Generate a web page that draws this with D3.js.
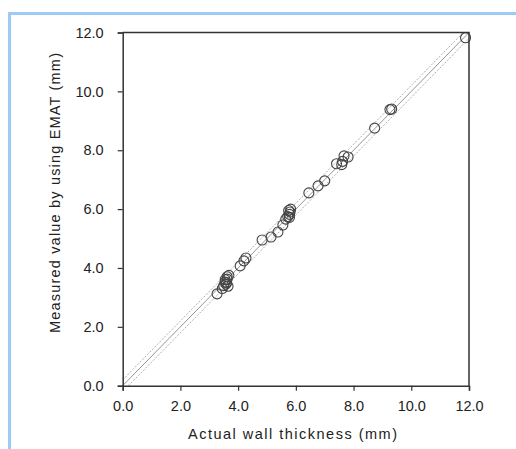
<!DOCTYPE html>
<html>
<head>
<meta charset="UTF-8">
<script src="https://d3js.org/d3.v7.min.js"></script>
<style>
    body { margin: 0; background: #fff; }
    svg { display: block; }
    text { font-family: "Liberation Sans", Arial, sans-serif; fill: #222; }
</style>
</head>
<body>
<svg width="516" height="449"></svg>
<script>
    // actual wall thickness (mm) vs EMAT reading (mm)
    const actual = [3.27, 3.45, 3.5, 3.55, 3.58, 3.6, 3.62, 3.65, 3.68, 3.55, 3.62,
        4.07, 4.2, 4.27, 4.83, 5.14, 5.38, 5.55, 5.65,
        5.72, 5.78, 5.8, 5.82, 5.78, 5.75,
        6.45, 6.77, 7.0, 7.41, 7.59, 7.62, 7.67, 7.81,
        8.73, 9.26, 9.32, 11.88];
    const measured = [3.12, 3.3, 3.4, 3.6, 3.45, 3.5, 3.7, 3.38, 3.75, 3.52, 3.62,
        4.07, 4.24, 4.34, 4.95, 5.05, 5.22, 5.46, 5.66,
        5.75, 5.82, 5.9, 6.0, 5.72, 5.95,
        6.55, 6.79, 6.96, 7.54, 7.51, 7.62, 7.81, 7.77,
        8.75, 9.38, 9.4, 11.82];
    const ticks = [0, 2, 4, 6, 8, 10, 12];
    const band = [-0.2, 0, 0.2];

    const svg = d3.select("svg");

    // light blue frame of the figure
    svg.append("path")
        .attr("d", "M9.5,449 V13.5 H516")
        .attr("fill", "none")
        .attr("stroke", "#9dcaf6")
        .attr("stroke-width", 3);

    const pl = 122.7, pr = 469, pt = 32.5, pb = 385.7;
    const x = d3.scaleLinear().domain([0, 12]).range([pl, pr]);
    const y = d3.scaleLinear().domain([0, 12]).range([pb, pt]);

    // reference lines y = x and +/- band
    band.forEach(off => {
        const x0 = Math.max(0, -off), x1 = Math.min(12, 12 - off);
        svg.append("line")
            .attr("x1", x(x0)).attr("y1", y(x0 + off))
            .attr("x2", x(x1)).attr("y2", y(x1 + off))
            .attr("stroke", off === 0 ? "#888" : "#999")
            .attr("stroke-width", off === 0 ? 0.9 : 0.8)
            .attr("stroke-dasharray", off === 0 ? null : "2,1.5");
    });

    // points
    svg.append("g").selectAll("circle")
        .data(actual)
        .join("circle")
        .attr("cx", d => x(d))
        .attr("cy", (d, i) => y(measured[i]))
        .attr("r", 5)
        .attr("fill", "none")
        .attr("stroke", "#444")
        .attr("stroke-width", 1.1);

    // frame of plot
    svg.append("path")
        .attr("d", `M${pl},${pt} H${pr} V${pb}`)
        .attr("fill", "none")
        .attr("stroke", "#333")
        .attr("stroke-width", 1.5);

    const xAxis = svg.append("g")
        .attr("transform", `translate(0,${pb})`)
        .call(d3.axisBottom(x).tickValues(ticks).tickFormat(d3.format(".1f")).tickSize(5).tickPadding(10));
    const yAxis = svg.append("g")
        .attr("transform", `translate(${pl},0)`)
        .call(d3.axisLeft(y).tickValues(ticks).tickFormat(d3.format(".1f")).tickSize(5).tickPadding(14));

    [xAxis, yAxis].forEach(a => {
        a.select(".domain").attr("stroke", "#333").attr("stroke-width", 1.5);
        a.selectAll(".tick line").attr("stroke", "#333").attr("stroke-width", 1.2);
        a.selectAll(".tick text").attr("font-size", 14.5).attr("fill", "#222")
            .attr("font-family", "'Liberation Sans', Arial, sans-serif");
    });

    svg.append("text")
        .attr("x", 292.5)
        .attr("y", 439)
        .attr("text-anchor", "middle")
        .attr("font-size", 14.5)
        .attr("textLength", 209)
        .attr("lengthAdjust", "spacing")
        .text("Actual wall thickness (mm)");

    svg.append("text")
        .attr("transform", `translate(60,193) rotate(-90)`)
        .attr("text-anchor", "middle")
        .attr("font-size", 14.5)
        .attr("textLength", 280)
        .attr("lengthAdjust", "spacing")
        .text("Measured value by using EMAT (mm)");
</script>
</body>
</html>
